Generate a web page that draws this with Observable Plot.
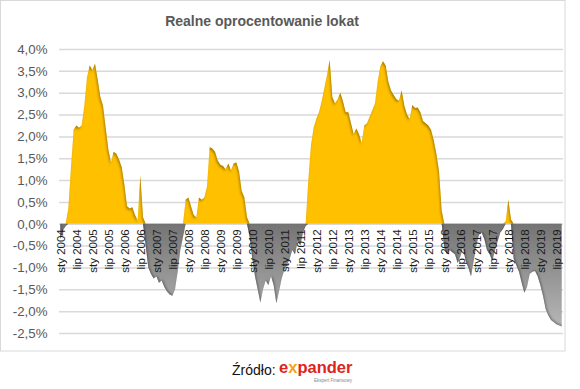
<!DOCTYPE html>
<html>
<head>
<meta charset="utf-8">
<script src="https://cdn.jsdelivr.net/npm/d3@7"></script>
<script src="https://cdn.jsdelivr.net/npm/@observablehq/plot@0.6"></script>
<style>
  html, body { margin: 0; padding: 0; background: #fff; }
  #wrap { position: relative; width: 580px; height: 389px; overflow: hidden; font-family: "Liberation Sans", Arial, sans-serif; }
  #chart { position: absolute; left: 0; top: 0; }
  #overlay { position: absolute; left: 0; top: 0; pointer-events: none; }
</style>
</head>
<body>
<div id="wrap">
  <div id="chart"></div>
  <svg id="overlay" width="580" height="389" xmlns="http://www.w3.org/2000/svg">
    <rect x="0.5" y="0.5" width="564.5" height="350.5" fill="none" stroke="#d9d9d9" stroke-width="1"/>
    <text x="262" y="26" text-anchor="middle" font-family="Liberation Sans, Arial, sans-serif" font-weight="bold" font-size="14" fill="#595959">Realne oprocentowanie lokat</text>
    <text x="232" y="375" font-family="Liberation Sans, Arial, sans-serif" font-size="14" fill="#111">Źródło:</text>
    <text x="279" y="372.5" font-family="Liberation Sans, Arial, sans-serif" font-weight="bold" font-size="16.5"><tspan fill="#e2231a">e</tspan><tspan fill="#f4a21c">x</tspan><tspan fill="#e2231a">pander</tspan></text>
    <text x="314" y="381.5" font-family="Liberation Sans, Arial, sans-serif" font-size="4.5" fill="#888">Ekspert Finansowy</text>
  </svg>
</div>
<script>
// Real deposit interest rate (%), monthly, Jan 2004 – Sep 2019
const rates = [
  // 2004
  -0.35, -0.15, -0.05, 0.35, 1.3, 2.15, 2.25, 2.2, 2.25, 2.7, 3.35, 3.62,
  // 2005
  3.52, 3.66, 3.3, 2.9, 2.7, 2.2, 1.7, 1.4, 1.65, 1.6, 1.47, 1.3,
  // 2006
  0.9, 0.4, 0.35, 0.38, 0.2, 0.08, 1.1, 0.15, -0.5, -1.0, -1.15, -1.25,
  // 2007
  -1.2, -1.35, -1.3, -1.45, -1.55, -1.62, -1.65, -1.5, -1.1, -0.6, -0.3, 0.55,
  // 2008
  0.6, 0.4, 0.2, 0.15, 0.6, 0.55, 0.6, 0.85, 1.75, 1.72, 1.65, 1.45,
  // 2009
  1.35, 1.32, 1.25, 1.38, 1.22, 1.38, 1.4, 1.2, 0.75, 0.6, 0.15, -0.3,
  // 2010
  -0.8, -1.2, -1.5, -1.8, -1.5, -1.3, -1.4, -1.2, -1.4, -1.82, -1.55, -1.25,
  // 2011
  -1.05, -0.95, -0.8, -0.6, -0.7, -0.4, -0.5, -0.2, -0.05, 1.0, 1.8, 2.2,
  // 2012
  2.4, 2.55, 2.8, 3.1, 3.4, 3.75, 2.9, 2.75, 2.85, 3.0, 2.8, 2.55,
  // 2013
  2.55, 2.3, 2.05, 2.18, 2.05, 1.85, 2.25, 2.3, 2.45, 2.6, 2.75, 3.25,
  // 2014
  3.6, 3.72, 3.62, 3.25, 3.05, 2.95, 2.85, 2.82, 3.05, 2.7, 2.5, 2.4,
  // 2015
  2.72, 2.65, 2.66, 2.55, 2.35, 2.3, 2.25, 2.15, 1.92, 1.6, 1.2, 0.3,
  // 2016
  -0.55, -0.7, -0.6, -0.65, -0.7, -0.9, -0.75, -0.55, -0.85, -1.0, -1.2, -0.85,
  // 2017
  -0.5, -0.25, -0.2, -0.35, -0.6, -0.7, -0.85, -0.6, -0.4, -0.2, -0.12, 0.05,
  // 2018
  0.55, 0.1, -0.8, -0.95, -1.1, -1.35, -1.58, -1.45, -1.15, -1.1, -1.08, -1.2,
  // 2019
  -1.4, -1.65, -1.95, -2.1, -2.2, -2.25, -2.3, -2.32, -2.35
];

const tickLabels = [
  "sty 2004", "lip 2004", "sty 2005", "lip 2005", "sty 2006", "lip 2006",
  "sty 2007", "lip 2007", "sty 2008", "lip 2008", "sty 2009", "lip 2009",
  "sty 2010", "lip 2010", "sty 2011", "lip 2011", "sty 2012", "lip 2012",
  "sty 2013", "lip 2013", "sty 2014", "lip 2014", "sty 2015", "lip 2015",
  "sty 2016", "lip 2016", "sty 2017", "lip 2017", "sty 2018", "lip 2018",
  "sty 2019", "lip 2019"
];

const yTicks = [-2.5, -2.0, -1.5, -1.0, -0.5, 0, 0.5, 1.0, 1.5, 2.0, 2.5, 3.0, 3.5, 4.0];

const data = rates.map((v, m) => ({m, v, pos: Math.max(v, 0), neg: Math.min(v, 0)}));
const ticks = tickLabels.map((label, i) => ({m: i * 6, label}));
const fmtY = d => d.toFixed(1).replace(".", ",") + "%";

const chart = Plot.plot({
  width: 566,
  height: 352,
  marginLeft: 59,
  marginRight: 3,
  marginTop: 49,
  marginBottom: 19,
  style: {fontFamily: "Liberation Sans, Arial, sans-serif", background: "transparent"},
  x: {domain: [-0.5, 188.5], axis: null},
  y: {domain: [-2.5, 4], axis: null},
  marks: [
    Plot.ruleY(yTicks, {stroke: "#d9d9d9", strokeWidth: 1.5}),
    Plot.areaY(data, {x: "m", y1: 0, y2: "pos", fill: "#FFC000"}),
    Plot.areaY(data, {x: "m", y1: 0, y2: "neg", fill: "#858585"}),
    Plot.text(ticks, {x: "m", y: 0, text: "label", rotate: -90, textAnchor: "end", dy: 5, fontSize: 11.5, fill: "#1a1a1a"}),
    Plot.text(yTicks, {y: d => d, text: fmtY, frameAnchor: "left", textAnchor: "end", dx: -12, fontSize: 13.3, fill: "#595959"})
  ]
});

document.getElementById("chart").appendChild(chart);

// Excel-like shading: gradient on the negative part, soft inner shadow on edges
try {
  const y0 = chart.scale("y").apply(0);
  const yB = chart.scale("y").apply(-2.3);
  const svg = d3.select(chart);
  const defs = svg.insert("defs", ":first-child");
  const lg = defs.append("linearGradient").attr("id", "gGray")
    .attr("gradientUnits", "userSpaceOnUse")
    .attr("x1", 0).attr("y1", y0).attr("x2", 0).attr("y2", yB);
  lg.append("stop").attr("offset", 0).attr("stop-color", "#747474");
  lg.append("stop").attr("offset", 1).attr("stop-color", "#b5b5b5");

  function inner(id, dx, dy, color, op) {
    const f = defs.append("filter").attr("id", id)
      .attr("x", "-5%").attr("y", "-10%").attr("width", "110%").attr("height", "120%");
    f.append("feOffset").attr("in", "SourceAlpha").attr("dx", dx).attr("dy", dy).attr("result", "o");
    f.append("feGaussianBlur").attr("in", "o").attr("stdDeviation", 1.0).attr("result", "b");
    f.append("feComposite").attr("in", "SourceAlpha").attr("in2", "b").attr("operator", "out").attr("result", "edge");
    f.append("feFlood").attr("flood-color", color).attr("flood-opacity", op).attr("result", "c");
    f.append("feComposite").attr("in", "c").attr("in2", "edge").attr("operator", "in").attr("result", "sh");
    const mg = f.append("feMerge");
    mg.append("feMergeNode").attr("in", "SourceGraphic");
    mg.append("feMergeNode").attr("in", "sh");
  }
  inner("innerGold", -1.0, 2.0, "#6b4f00", 0.7);
  inner("innerGray", 1.2, -1.2, "#2e2e2e", 0.7);

  const areas = chart.querySelectorAll('g[aria-label="area"]');
  if (areas[0]) areas[0].setAttribute("filter", "url(#innerGold)");
  if (areas[1]) {
    areas[1].setAttribute("filter", "url(#innerGray)");
    areas[1].setAttribute("fill", "url(#gGray)");
    areas[1].querySelectorAll("path").forEach(p => p.setAttribute("fill", "url(#gGray)"));
  }
} catch (e) { console.error(e); }
</script>
</body>
</html>
